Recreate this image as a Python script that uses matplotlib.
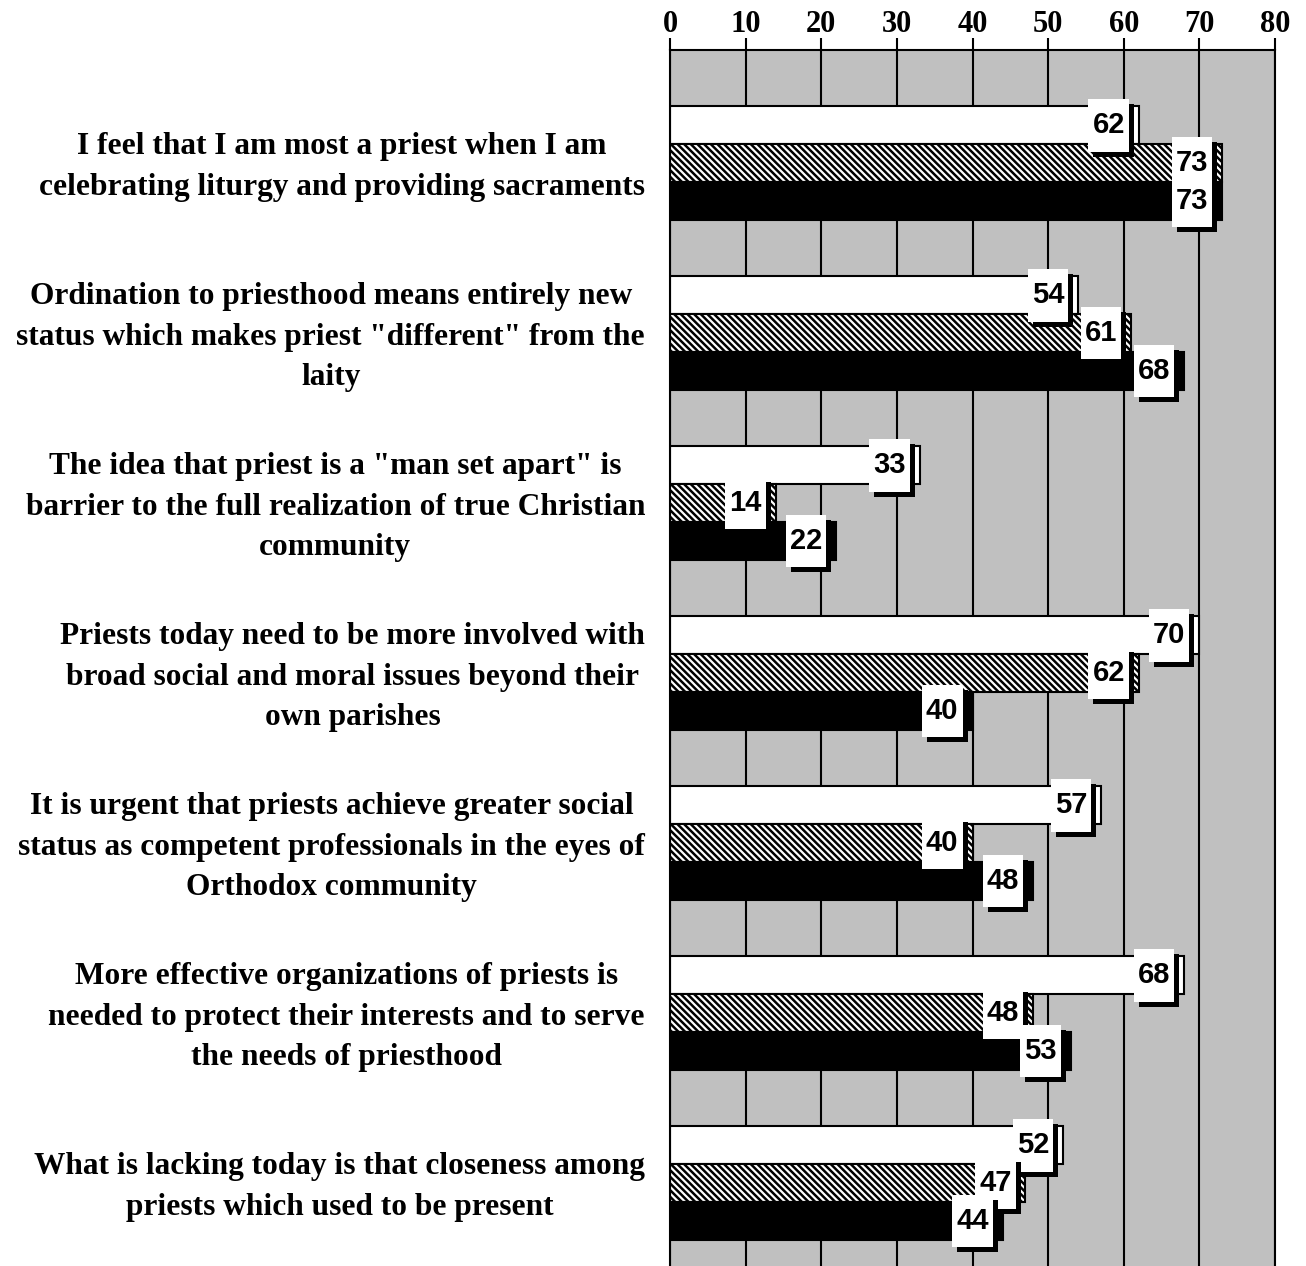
import matplotlib.pyplot as plt

categories = [
    "I feel that I am most a priest when I am\ncelebrating liturgy and providing sacraments",
    "Ordination to priesthood means entirely new\nstatus which makes priest \"different\" from the\nlaity",
    "The idea that priest is a \"man set apart\" is\nbarrier to the full realization of true Christian\ncommunity",
    "Priests today need to be more involved with\nbroad social and moral issues beyond their\nown parishes",
    "It is urgent that priests achieve greater social\nstatus as competent professionals in the eyes of\nOrthodox community",
    "More effective organizations of priests is\nneeded to protect their interests and to serve\nthe needs of priesthood",
    "What is lacking today is that closeness among\npriests which used to be present",
]
series_white = [62, 54, 33, 70, 57, 68, 52]
series_hatch = [73, 61, 14, 62, 40, 48, 47]
series_black = [73, 68, 22, 40, 48, 53, 44]
ticks = [0, 10, 20, 30, 40, 50, 60, 70, 80]

plt.rcParams['hatch.linewidth'] = 1.8

fig = plt.figure(figsize=(13.06, 12.66), dpi=100)
ax = fig.add_axes([670 / 1306, 0, 605 / 1306, 1216 / 1266])
ax.set_facecolor("#c0c0c0")

h = 0.222
ypos = list(range(len(categories)))
styles = [
    (series_white, -h, dict(color="white")),
    (series_hatch, 0, dict(color="white", hatch="\\" * 5)),
    (series_black, h, dict(color="black")),
]

z = 3
for vals, off, st in styles:
    ys = [y + off for y in ypos]
    ax.barh(ys, vals, height=h, edgecolor="black", linewidth=1.5, zorder=2, **st)

# value labels: white box with a black drop shadow
for vals, off, st in styles:
    for y, v in zip(ypos, vals):
        box = dict(boxstyle="square,pad=0.14", mutation_aspect=3.0, lw=0)
        ax.annotate(str(v), (v, y + off), xytext=(-9, -5), textcoords="offset pixels",
                    ha="right", va="center", fontsize=21, fontweight="bold",
                    family="Liberation Sans", color="black",
                    bbox=dict(box, fc="black"), zorder=z)
        ax.annotate(str(v), (v, y + off), xytext=(-14, 0), textcoords="offset pixels",
                    ha="right", va="center", fontsize=21, fontweight="bold",
                    family="Liberation Sans", color="black",
                    bbox=dict(box, fc="white"), zorder=z + 1)
        z += 2

for y, cat in zip(ypos, categories):
    ax.text(-25 / 605, y + 0.025, cat, transform=ax.get_yaxis_transform(), ha="right", va="center",
            multialignment="center", fontsize=22.6, fontweight="bold",
            family="Liberation Serif", linespacing=1.53)

ax.set_xlim(0, 80)
ax.set_ylim(6.488, -0.665)
ax.set_yticks([])
ax.set_xticks(ticks)
ax.xaxis.tick_top()
ax.tick_params(axis="x", direction="out", length=8.6, width=1.5, pad=-1, labelsize=22)
for lab in ax.get_xticklabels():
    lab.set_fontweight("bold")
    lab.set_family("Liberation Serif")
ax.grid(axis="x", color="black", linewidth=1.5, zorder=1)
ax.set_axisbelow(True)
ax.spines["bottom"].set_visible(False)
for s in ["top", "left", "right"]:
    ax.spines[s].set_linewidth(1.5)

fig.savefig("out.png", dpi=100)
